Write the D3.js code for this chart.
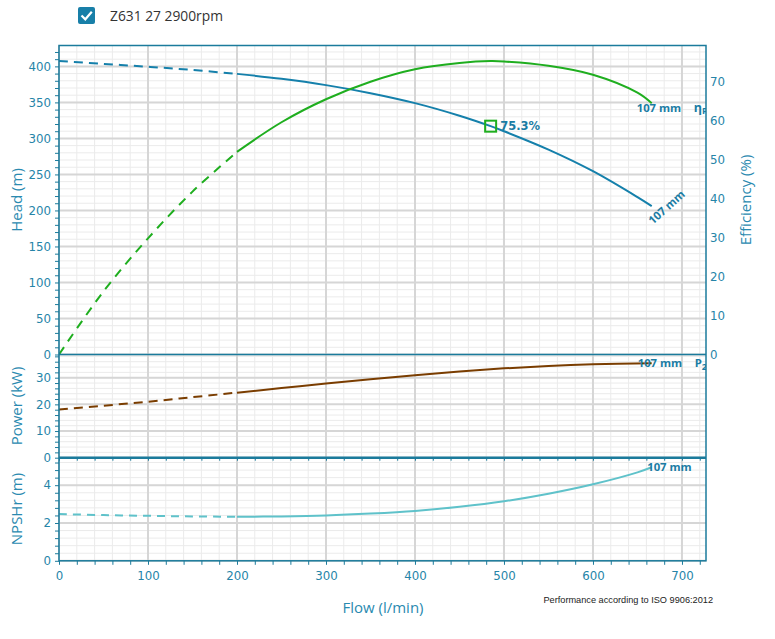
<!DOCTYPE html>
<html><head><meta charset="utf-8">
<script src="https://cdn.jsdelivr.net/npm/d3@7"></script>
<style>body{margin:0;background:#fff}</style>
</head><body><svg id="c" width="775" height="639"></svg>
<script>
// ---- data ----
const seriesName = "Z631 27 2900rpm";
const diameterLabel = "107 mm";
const flowHead = [0,50,100,150,200,250,300,350,400,450,485,500,550,600,650,666];
const headVals = [407.5,403.5,399.5,395,389.6,382.8,374,362.8,349,331.5,317,310,284.5,254.5,218.5,206];
const flowEff  = [0,50,100,150,200,250,300,350,400,450,485,500,550,600,650,666];
const effVals  = [0,16.2,29.8,41.8,52,59.6,65.5,70,73.2,74.8,75.3,75.2,74.1,71.8,67.2,64.5];
const flowPow  = [0,50,100,150,200,250,300,350,400,450,500,550,600,666];
const powVals  = [18.1,19.5,21.0,22.7,24.4,26.1,27.8,29.4,30.9,32.3,33.5,34.4,35.0,35.4];
const flowNpsh = [0,50,100,150,200,250,300,350,400,450,500,550,600,650,666];
const npshVals = [2.47,2.42,2.38,2.35,2.33,2.35,2.40,2.50,2.64,2.86,3.15,3.55,4.05,4.68,4.95];
const dashLimit = 200;
const bep = {flow:485, head:317, eff:75.3};
const flowMajor = d3.range(0,701,100);
const flowMinor = d3.range(0,721,20);
const headMajor = d3.range(0,401,50);
const headMinor = d3.range(0,421,10);
const effTicks = d3.range(0,71,10);
const powMajor = [0,10,20,30];
const powMinor = d3.range(0,39,2);
const npshMajor = [0,2,4];
const npshMinor = d3.range(0,14).map(i=>+(i*0.4).toFixed(1));

// ---- scales ----
const X0=59, X1=706, HT=45.5, HB=354.5, PB=457.7, NB=560.8;
const x  = d3.scaleLinear().domain([0,727]).range([X0,X1]);
const yH = d3.scaleLinear().domain([0,429]).range([HB,HT]);
const yE = d3.scaleLinear().domain([0,79.3]).range([HB,HT]);
const yP = d3.scaleLinear().domain([0,38.7]).range([PB,HB]);
const yN = d3.scaleLinear().domain([0,5.455]).range([NB,PB]);

const AX="#1b7b9c", TXT="#2584a8", LBL="#1a7ca4";
const C_HEAD="#1580ab", C_EFF="#1fae1f", C_POW="#7a3d00", C_NPSH="#5fc2ca";
const GRID_MAJ="#d6d6d6", GRID_MIN="#ebebeb";
const svg=d3.select('#c');
const defs=svg.append('defs');
defs.append('clipPath').attr('id','plot').append('rect')
  .attr('x',X0).attr('y',HT).attr('width',X1-X0).attr('height',NB-HT);

// ---- legend ----
svg.append('rect').attr('x',78).attr('y',7).attr('width',17).attr('height',17).attr('rx',2).attr('fill','#187fa8');
svg.append('path').attr('d','M81.5,15.5 L85.3,19.3 L91.8,11.8').attr('fill','none').attr('stroke','#fff').attr('stroke-width',2.2);
svg.append('text').attr('x',110).attr('y',20.5).attr('font-family','Open Sans').attr('font-size',13.8).attr('fill','#333').text(seriesName);

// ---- grid ----
const g=svg.append('g');
function hgrid(scale, vals, col, w){
  g.selectAll(null).data(vals).enter().append('line')
   .attr('x1',X0).attr('x2',X1).attr('y1',d=>scale(d)).attr('y2',d=>scale(d))
   .attr('stroke',col).attr('stroke-width',w);
}
function vgrid(vals,col,w){
  g.selectAll(null).data(vals).enter().append('line')
   .attr('x1',d=>x(d)).attr('x2',d=>x(d)).attr('y1',HT).attr('y2',NB)
   .attr('stroke',col).attr('stroke-width',w);
}
hgrid(yH, headMinor, GRID_MIN, 1);
hgrid(yP, powMinor, GRID_MIN, 1);
hgrid(yN, npshMinor, GRID_MIN, 1);
vgrid(flowMinor, GRID_MIN, 1);
hgrid(yH, headMajor, GRID_MAJ, 2);
hgrid(yP, powMajor, GRID_MAJ, 2);
hgrid(yN, npshMajor, GRID_MAJ, 2);
vgrid(flowMajor, GRID_MAJ, 2);

// ---- curves ----
const cv=svg.append('g').attr('clip-path','url(#plot)');
function drawCurve(fl, vals, ys, col, dash){
  const pts=fl.map((f,i)=>[f,vals[i]]);
  const line=d3.line().x(d=>x(d[0])).y(d=>ys(d[1])).curve(d3.curveCatmullRom.alpha(0.5));
  cv.append('path').datum(pts.filter(p=>p[0]<=dashLimit)).attr('d',line)
    .attr('fill','none').attr('stroke',col).attr('stroke-width',2).attr('stroke-dasharray',dash);
  cv.append('path').datum(pts.filter(p=>p[0]>=dashLimit)).attr('d',line)
    .attr('fill','none').attr('stroke',col).attr('stroke-width',2);
  return pts[pts.length-1];
}
const eH=drawCurve(flowHead, headVals, yH, C_HEAD, '9,6');
const eE=drawCurve(flowEff, effVals, yE, C_EFF, '9,7');
const eP=drawCurve(flowPow, powVals, yP, C_POW, '9,6');
const eN=drawCurve(flowNpsh, npshVals, yN, C_NPSH, '8,6');

// BEP marker
cv.append('rect').attr('x',x(bep.flow)-5.5).attr('y',yH(bep.head)-5.5).attr('width',11).attr('height',11)
  .attr('fill','none').attr('stroke',C_EFF).attr('stroke-width',2);
cv.append('text').attr('x',x(bep.flow)+9.5).attr('y',yH(bep.head)+4.3)
  .attr('font-family','DejaVu Sans').attr('font-weight','bold').attr('font-size',11.5).attr('fill',LBL)
  .text(bep.eff.toFixed(1)+'%');

// curve labels
const lf={'font-family':'Open Sans','font-weight':'bold','font-size':11.3,'fill':LBL};
function lab(xp,yp,txt,rot){
  const t=cv.append('text').attr('x',xp).attr('y',yp).text(txt);
  Object.entries(lf).forEach(([k,v])=>t.attr(k,v));
  if(rot) t.attr('transform',`rotate(${rot},${xp},${yp})`);
  return t;
}
lab(x(eH[0])+1, yH(eH[1])+19, diameterLabel, -42);
lab(x(eE[0])-15, yE(eE[1])+8.5, diameterLabel);
{const t=lab(x(eE[0])+42, yE(eE[1])+8.5, 'η'); t.attr('font-size',12.5); t.append('tspan').attr('font-size',9).attr('dy',2.5).text('P');}
lab(x(eP[0])-14, yP(eP[1])+4, diameterLabel);
{const t=lab(x(eP[0])+43, yP(eP[1])+4, 'P'); t.append('tspan').attr('font-size',9).attr('dy',2.5).text('2');}
lab(x(eN[0])-4.5, yN(eN[1])+3.5, diameterLabel);

// ---- axes ----
const tf=(sel)=>sel.selectAll('text').attr('font-family','DejaVu Sans').attr('font-size',11.8).attr('fill',TXT);
function leftAxis(scale, minor, major){
  const a=svg.append('g').attr('transform',`translate(${X0},0)`)
   .call(d3.axisLeft(scale).tickValues(minor).tickSize(4).tickSizeOuter(0).tickPadding(4)
     .tickFormat(d=>major.includes(d)?d:''));
  a.select('.domain').remove();
  a.selectAll('line').attr('stroke',AX);
  tf(a);
}
leftAxis(yH, headMinor, headMajor);
leftAxis(yP, powMinor, powMajor);
leftAxis(yN, npshMinor, npshMajor);
// right eff axis (labels only)
const ra=svg.append('g').attr('transform',`translate(${X1},0)`)
  .call(d3.axisRight(yE).tickValues(effTicks).tickSize(0).tickPadding(4));
ra.select('.domain').remove(); tf(ra);
// bottom axis
const ba=svg.append('g').attr('transform',`translate(0,${NB})`)
  .call(d3.axisBottom(x).tickValues(flowMinor).tickSize(4).tickSizeOuter(0).tickPadding(7)
    .tickFormat(d=>flowMajor.includes(d)?d:''));
ba.select('.domain').remove(); ba.selectAll('line').attr('stroke',AX); tf(ba);
// ticks between power and npsh
const ma=svg.append('g').attr('transform',`translate(0,${PB})`)
  .call(d3.axisBottom(x).tickValues(flowMinor).tickSize(3).tickSizeOuter(0).tickFormat(''));
ma.select('.domain').remove(); ma.selectAll('line').attr('stroke',AX);

// borders
const bd=svg.append('g').attr('fill','none').attr('stroke',AX);
bd.append('rect').attr('x',X0).attr('y',HT).attr('width',X1-X0).attr('height',NB-HT).attr('stroke-width',1.5);
bd.append('line').attr('x1',X0).attr('x2',X1).attr('y1',HB).attr('y2',HB).attr('stroke-width',1.5);
bd.append('line').attr('x1',X0).attr('x2',X1).attr('y1',PB).attr('y2',PB).attr('stroke-width',2.5);

// titles
const tt={'font-family':'Open Sans','font-size':15,'fill':'#2a8ab0','text-anchor':'middle'};
function title(xp,yp,txt,rot){
  const t=svg.append('text').attr('x',xp).attr('y',yp).attr('dy','0.35em').text(txt);
  Object.entries(tt).forEach(([k,v])=>t.attr(k,v));
  if(rot) t.attr('transform',`rotate(${rot},${xp},${yp})`);
}
title(17,200,'Head (m)',-90);
title(746,200,'Efficiency (%)',-90);
title(17,406,'Power (kW)',-90);
title(17,509,'NPSHr (m)',-90);
title(383,608,'Flow (l/min)');
svg.append('text').attr('x',713).attr('y',603).attr('text-anchor','end')
  .attr('font-family','Liberation Sans').attr('font-size',9.2).attr('fill','#222')
  .text('Performance according to ISO 9906:2012');
</script></body></html>
